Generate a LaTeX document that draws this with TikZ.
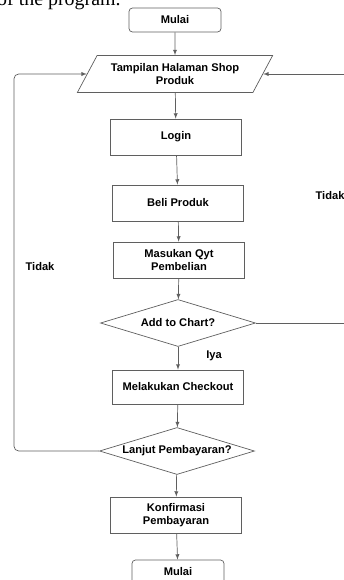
\documentclass[tikz,border=0pt]{standalone}
\usepackage{fontspec}
\setmainfont{Liberation Sans}
\newfontfamily\serifdoc{Liberation Serif}
\usepackage{tikz}
\usetikzlibrary{calc, shapes.geometric, arrows}
\tikzset{>=latex}
\definecolor{mygray2}{RGB}{95, 95, 95}

\begin{document}
\begin{tikzpicture}[x=0.03cm, y=-0.03cm,
  font=\bfseries\fontsize{9.5}{10.8}\selectfont,
  garis/.style={draw=mygray2, line width=0.6pt, ->},
  kotak/.style={draw=mygray2, line width=0.6pt, minimum width=3.93cm, minimum height=1.08cm, align=center},
  terminal/.style={kotak, rounded corners=3pt, minimum width=2.76cm, minimum height=0.72cm},
  io/.style={draw=mygray2, line width=0.6pt, trapezium, trapezium left angle=52, trapezium right angle=128,
    trapezium stretches=true, minimum width=5.87cm, minimum height=1.11cm, align=center, inner sep=0pt},
  keputusan/.style={draw=mygray2, line width=0.6pt, diamond, aspect=3.3, minimum width=4.65cm, minimum height=1.41cm, inner sep=0pt},
  teks/.style={inner sep=1pt}]
\useasboundingbox (0,0) rectangle (344,580);
\clip (0,0) rectangle (344,580);
% sisa teks dari halaman
\node[anchor=base west, inner sep=0pt, font=\serifdoc\fontsize{17}{17}\selectfont] (judul) at (-3,5) {of the program.};
% alur utama
\node[terminal] (mulai) at (175,20) {Mulai};
\node[io] (tampil) at (175,74) {Tampilan Halaman Shop\\Produk};
\node[kotak] (login) at (176,137) {Login};
\node[kotak] (beli) at (178,203) {Beli Produk};
\node[kotak] (qty) at (179,260) {Masukan Qyt\\Pembelian};
\node[keputusan] (chart) at (178,323) {Add to Chart?};
\node[kotak, minimum height=1.02cm] (checkout) at (178,387) {Melakukan Checkout};
\node[keputusan] (lanjut) at (177,451) {Lanjut Pembayaran?};
\node[kotak] (konfirmasi) at (176,515) {Konfirmasi\\Pembayaran};
\node[terminal] (selesai) at (178,572) {Mulai};
\draw[garis] (mulai) -- (tampil);
\draw[garis] (tampil) -- (login);
\draw[garis] (login) -- (beli);
\draw[garis] (beli) -- (qty);
\draw[garis] (qty) -- (chart);
\draw[garis] (chart) -- (checkout);
\draw[garis] (checkout) -- (lanjut);
\draw[garis] (lanjut) -- (konfirmasi);
\draw[garis] (konfirmasi) -- (selesai);
% kembali ke halaman shop
\coordinate (kiri) at (14,0);
\coordinate (kanan) at (352,0);
\draw[garis, rounded corners=4pt] (lanjut.west) -- (lanjut.west -| kiri) -- (tampil.west -| kiri) -- (tampil.west);
\draw[garis] (chart.east) -- (chart.east -| kanan) -- (tampil.east -| kanan) -- (tampil.east);
\node[teks] (tidakkiri) at (40,267) {Tidak};
\node[teks] (tidakkanan) at (330,196) {Tidak};
\node[teks] (iya) at (214,356) {Iya};
\end{tikzpicture}
\end{document}
